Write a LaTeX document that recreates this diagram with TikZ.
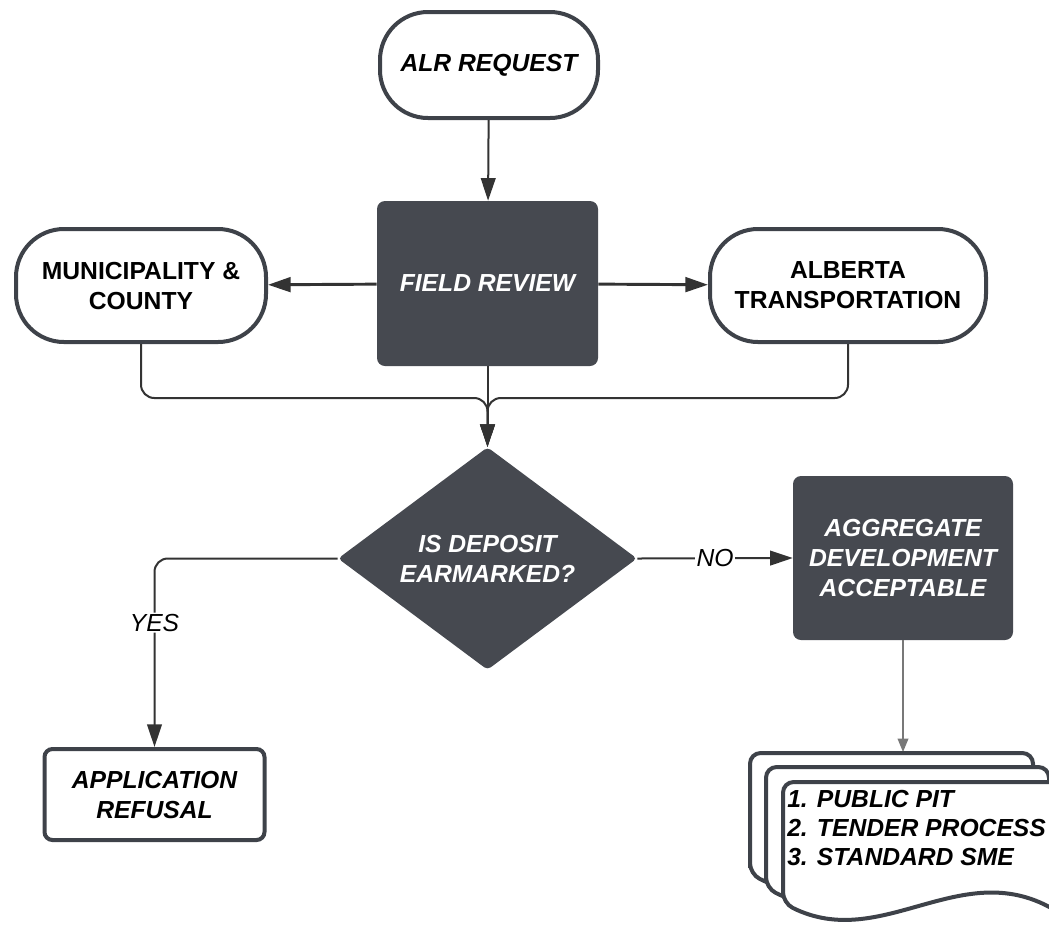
\documentclass[tikz,border=0pt]{standalone}
\usepackage{fontspec}
\setmainfont{Liberation Sans}
\usetikzlibrary{positioning, shapes.geometric, arrows.meta}

\definecolor{slate}{RGB}{70,73,80}
\definecolor{rim}{RGB}{62,66,73}
\definecolor{wire}{RGB}{51,51,51}
\definecolor{softwire}{RGB}{120,120,120}

\tikzset{
    label txt/.style={font=\bfseries\itshape\fontsize{18.5}{22.5}\selectfont, align=center, inner sep=0pt},
    terminal/.style={label txt, draw=rim, line width=3pt, fill=white, rounded corners=36pt},
    process/.style={label txt, fill=slate, text=white, rounded corners=6pt},
    outcome/.style={label txt, draw=rim, line width=3pt, fill=white, rounded corners=6pt},
    decision/.style={label txt, diamond, fill=slate, text=white, rounded corners=3pt},
    link/.style={draw=wire, line width=1.5pt, -{Triangle[length=17pt, width=11pt]}},
    thick link/.style={link, line width=2.2pt},
    branch/.style={font=\itshape\fontsize{18.5}{22.5}\selectfont, fill=white, inner sep=1pt},
    sheet/.style={draw=rim, line width=3pt, fill=white, rounded corners=8pt}
}

\newcommand{\docpage}[1]{%
    \draw[sheet, shift={#1}] (0,121) -- (0,0) -- (283,0) -- (283,135)
        .. controls (180,71) and (100,171) .. (0,121) -- cycle;
}

\begin{document}
\begin{tikzpicture}[x=0.75pt, y=-0.75pt]
    \useasboundingbox (0,0) rectangle (1049,926);

    \node[terminal, minimum width=163.5pt, minimum height=79.5pt] (alr) at (489,65) {ALR REQUEST};
    \node[process, minimum width=165.75pt, minimum height=123.75pt] (field) at (487.5,283.5) {FIELD REVIEW};
    \node[terminal, font=\bfseries\fontsize{18.5}{22.5}\selectfont, minimum width=187.5pt, minimum height=84.75pt] (muni) at (141,285.5) {MUNICIPALITY \&\\COUNTY};
    \node[terminal, font=\bfseries\fontsize{18.5}{22.5}\selectfont, minimum width=207pt, minimum height=84.75pt] (alberta) at (848,285.5) {ALBERTA\\TRANSPORTATION};
    \node[decision, minimum width=224.25pt, minimum height=159.75pt] (deposit) at (487.5,558.5) {IS DEPOSIT\\EARMARKED?};
    \node[outcome, minimum width=165pt, minimum height=68.25pt] (refusal) at (154.5,794.5) {APPLICATION\\REFUSAL};
    \node[process, minimum width=165pt, minimum height=123pt] (aggregate) at (903,558) {AGGREGATE\\DEVELOPMENT\\ACCEPTABLE};

    \coordinate (join) at (487.5,398);
    \coordinate (doctop) at (903,752);

    \draw[link] (alr) -- (field);
    \draw[thick link] (field) -- (muni);
    \draw[thick link] (field) -- (alberta);
    \draw[link, rounded corners=10pt] (muni.south) |- (join) -- (deposit.north);
    \draw[link, rounded corners=10pt] (alberta.south) |- (join) -- (deposit.north);
    \draw[link] (field) -- (deposit);

    \draw[link, rounded corners=10pt] (deposit.west) -| node[branch, pos=0.67] {YES} (refusal.north);
    \draw[link] (deposit.east) -- node[branch] {NO} (aggregate.west);
    \draw[draw=softwire, line width=1pt, -{Triangle[length=10pt, width=8pt]}] (aggregate) -- (doctop);

    \docpage{(750,753)}
    \docpage{(766,767)}
    \docpage{(783,782)}
    \node[label txt, align=left, anchor=north west, text depth=0pt, font=\bfseries\itshape\fontsize{18.5}{21.75}\selectfont] (steps) at (787,790) {1. PUBLIC PIT\\2. TENDER PROCESS\\3. STANDARD SME};
\end{tikzpicture}
\end{document}
